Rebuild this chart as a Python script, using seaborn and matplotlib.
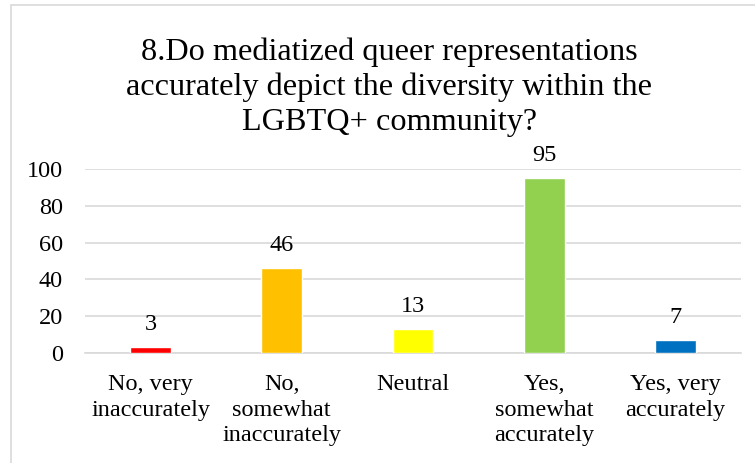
import matplotlib
matplotlib.use("Agg")
import matplotlib.pyplot as plt
import seaborn as sns
import pandas as pd
from matplotlib.patches import Rectangle

categories = ["No, very\ninaccurately", "No,\nsomewhat\ninaccurately", "Neutral",
              "Yes,\nsomewhat\naccurately", "Yes, very\naccurately"]
counts = [3, 46, 13, 95, 7]
colors = ["#FF0000", "#FFC000", "#FFFF00", "#92D050", "#0070C0"]
title = "8.Do mediatized queer representations\naccurately depict the diversity within the\nLGBTQ+ community?"

sns.set_theme(style="white")
plt.rcParams["font.family"] = ["Liberation Serif", "DejaVu Serif"]

df = pd.DataFrame({"answer": categories, "count": counts})

fig = plt.figure(figsize=(7.55, 4.63), dpi=100)
ax = fig.add_axes([85 / 755, 1 - 353 / 463, (741 - 85) / 755, (353 - 169) / 463])

sns.barplot(data=df, x="answer", y="count", hue="answer", palette=colors,
            legend=False, width=0.31, saturation=1, ax=ax, zorder=3)

ax.set_ylim(0, 100)
ax.set_yticks(range(0, 101, 20))
ax.set_xlim(-0.5, len(categories) - 0.5)
ax.yaxis.grid(True, color="#d9d9d9", linewidth=1.2, zorder=0)
ax.set_axisbelow(True)
for side in ["top", "right", "left"]:
    ax.spines[side].set_visible(False)
ax.spines["bottom"].set_color("#d9d9d9")
ax.spines["bottom"].set_linewidth(1.2)
ax.set_xlabel("")
ax.set_ylabel("")
ax.tick_params(axis="y", length=0, pad=16, labelsize=17.5, labelcolor="black")
ax.tick_params(axis="x", length=0, pad=15, labelsize=17.5, labelcolor="black")
for lbl in ax.get_xticklabels():
    lbl.set_linespacing(1.3)

for container in ax.containers:
    ax.bar_label(container, labels=[f"{v:g}" for v in container.datavalues],
                 padding=9, fontsize=17.5, color="black")

fig.text(389 / 755, 1 - 87 / 463, title, ha="center", va="center",
         fontsize=23.2, linespacing=1.25, color="black")

fig.patches.append(Rectangle((11 / 755, -0.1), 1.0, 1 - 5 / 463 + 0.1,
                             transform=fig.transFigure, fill=False,
                             edgecolor="#d9d9d9", linewidth=1.2))

fig.savefig("out.png", dpi=100)
